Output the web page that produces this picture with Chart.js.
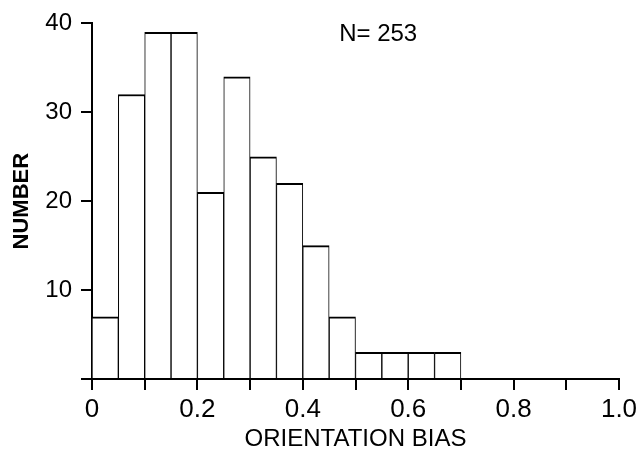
<!DOCTYPE html>
<html>
<head>
<meta charset="utf-8">
<script src="https://cdn.jsdelivr.net/npm/chart.js@4.4.1/dist/chart.umd.min.js"></script>
<style>
  html, body { margin: 0; padding: 0; background: #fff; }
  canvas { display: block; }
</style>
</head>
<body>
<canvas id="c" width="642" height="456"></canvas>
<script>
// Histogram bins (centres of 0.05-wide bins) and counts
const binCenters = [0.025, 0.075, 0.125, 0.175, 0.225, 0.275, 0.325, 0.375, 0.425, 0.475, 0.525, 0.575, 0.625, 0.675];
const counts     = [7, 32, 39, 39, 21, 34, 25, 22, 15, 7, 3, 3, 3, 3];
const xTickLabels = ['0', '0.2', '0.4', '0.6', '0.8', '1.0'];
const yTickLabels = ['', '10', '20', '30', '40'];
const annotationText = 'N= 253';

const FONT = "'Liberation Sans', Arial, sans-serif";

const noteLabel = {
  id: 'noteLabel',
  afterDraw(chart) {
    const { ctx, scales: { x, y } } = chart;
    ctx.save();
    ctx.fillStyle = '#000';
    ctx.font = '24px ' + FONT;
    ctx.textAlign = 'center';
    ctx.textBaseline = 'middle';
    ctx.fillText(annotationText, x.getPixelForValue(0.543), y.getPixelForValue(38.8));
    ctx.restore();
  }
};

new Chart(document.getElementById('c'), {
  type: 'bar',
  data: {
    datasets: [{
      data: binCenters.map((v, i) => ({ x: v, y: counts[i] })),
      backgroundColor: '#fff',
      borderColor: '#000',
      borderWidth: { top: 2, left: 1, right: 1, bottom: 0 },
      borderSkipped: false,
      barPercentage: 1,
      categoryPercentage: 1
    }]
  },
  options: {
    responsive: false,
    animation: false,
    devicePixelRatio: 1,
    layout: { padding: { left: 0, top: 23, right: 23, bottom: 0 } },
    plugins: { legend: { display: false }, tooltip: { enabled: false } },
    scales: {
      x: {
        type: 'linear',
        min: 0, max: 1,
        offset: false,
        afterFit(s) { s.height = 77; },
        grid: { offset: false, drawOnChartArea: false, drawTicks: true, tickLength: 11, color: '#000', lineWidth: 2 },
        border: { display: true, color: '#000', width: 2 },
        ticks: {
          stepSize: 0.1,
          autoSkip: false,
          maxRotation: 0,
          padding: 4,
          color: '#000',
          font: { family: FONT, size: 26 },
          callback(v) {
            const k = Math.round(v * 10);
            return k % 2 === 0 ? xTickLabels[k / 2] : '';
          }
        },
        title: {
          display: true,
          text: 'ORIENTATION BIAS',
          color: '#000',
          font: { family: FONT, size: 24 },
          padding: { top: 0, bottom: 2 }
        }
      },
      y: {
        min: 0, max: 40,
        afterFit(s) { s.width = 92; },
        grid: { drawOnChartArea: false, drawTicks: true, tickLength: 11, color: '#000', lineWidth: 2 },
        border: { display: true, color: '#000', width: 2 },
        ticks: {
          stepSize: 10,
          padding: 9,
          color: '#000',
          font: { family: FONT, size: 24 },
          callback(v) { return yTickLabels[Math.round(v / 10)]; }
        },
        title: {
          display: true,
          text: 'NUMBER',
          color: '#000',
          font: { family: FONT, size: 22, weight: 'bold' },
          padding: { top: 9, bottom: 0 }
        }
      }
    }
  },
  plugins: [noteLabel]
});
</script>
</body>
</html>
